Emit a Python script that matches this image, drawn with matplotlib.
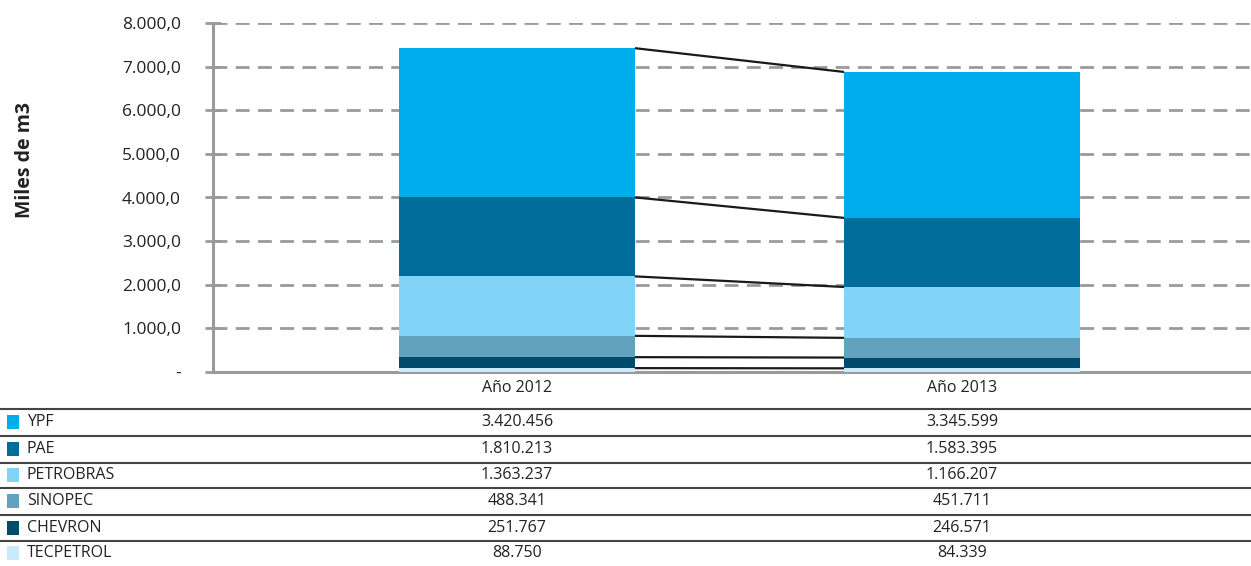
import matplotlib
matplotlib.use("Agg")
import matplotlib.pyplot as plt
from matplotlib.lines import Line2D
from matplotlib.patches import Rectangle
import numpy as np

plt.rcParams['font.family'] = ['Open Sans', 'DejaVu Sans']

years = ["Año 2012", "Año 2013"]
companies = ["YPF", "PAE", "PETROBRAS", "SINOPEC", "CHEVRON", "TECPETROL"]
ypf = [3420456, 3345599]
pae = [1810213, 1583395]
petrobras = [1363237, 1166207]
sinopec = [488341, 451711]
chevron = [251767, 246571]
tecpetrol = [88750, 84339]
colors = ["#00ADEC", "#006C9A", "#81D3F7", "#62A2BF", "#004A6E", "#C8EAFA"]
yticks = [0, 1000, 2000, 3000, 4000, 5000, 6000, 7000, 8000]

series = [ypf, pae, petrobras, sinopec, chevron, tecpetrol]

W, H = 1251, 566
fig = plt.figure(figsize=(W / 100, H / 100), dpi=100)
ax = fig.add_axes([213 / W, 1 - 372 / H, (1250 - 213) / W, (372 - 23) / H])

x = np.arange(len(years))
bw = 0.530
bottom = np.zeros(len(years))
# stack from bottom: TECPETROL ... YPF
for vals, col in zip(series[::-1], colors[::-1]):
    v = np.array(vals) / 1000.0
    ax.bar(x, v, bw, bottom=bottom, color=col, zorder=3, linewidth=0)
    bottom = bottom + v
    ax.plot([x[0] + bw / 2, x[1] - bw / 2], [bottom[0], bottom[1]],
            color="#1a1a1a", lw=1.6, zorder=4, solid_capstyle="butt")

ax.set_xlim(-0.683, 1.647)
ax.set_ylim(0, 8000)
ax.set_yticks(yticks)
ax.set_yticklabels(["-" if t == 0 else f"{t:,.1f}".replace(",", "X").replace(".", ",").replace("X", ".") for t in yticks],
                   fontsize=12.5, color="#222222")
ax.set_xticks([])
ax.yaxis.grid(True, color="#9a9a9a", lw=2, linestyle=(0, (5, 3)), zorder=1)
for s in ["top", "right"]:
    ax.spines[s].set_visible(False)
for s in ["left", "bottom"]:
    ax.spines[s].set_color("#9a9a9a")
    ax.spines[s].set_linewidth(2.2)
ax.tick_params(axis="y", direction="inout", length=12, width=2, color="#9a9a9a", pad=17)
fig.text(25 / W, 1 - 160 / H, "Miles de m3", rotation=90, ha="center", va="center",
         fontsize=14, fontweight="bold", color="#222222")

# table
col_x = [517 / W, 962 / W]
for cx, yr in zip(col_x, years):
    fig.text(cx, 1 - 388 / H, yr, ha="center", va="center", fontsize=11.5, color="#222222")

line_y = [409, 436, 463, 488, 515, 541]
row_c = [422, 449, 475, 501, 528, 553]
for ly in line_y:
    fig.add_artist(Line2D([0, 1], [1 - ly / H, 1 - ly / H], transform=fig.transFigure,
                          color="#444444", lw=1.5))
for name, vals, col, rc in zip(companies, series, colors, row_c):
    yc = 1 - rc / H
    fig.add_artist(Rectangle((7 / W, yc - 7 / H), 12 / W, 14 / H, transform=fig.transFigure,
                             facecolor=col, edgecolor="none"))
    fig.text(27 / W, yc, name, ha="left", va="center", fontsize=11.5, color="#222222")
    for cx, v in zip(col_x, vals):
        fig.text(cx, yc, f"{v:,}".replace(",", "."), ha="center", va="center",
                 fontsize=11.5, color="#222222")

fig.savefig("out.png", dpi=100)
